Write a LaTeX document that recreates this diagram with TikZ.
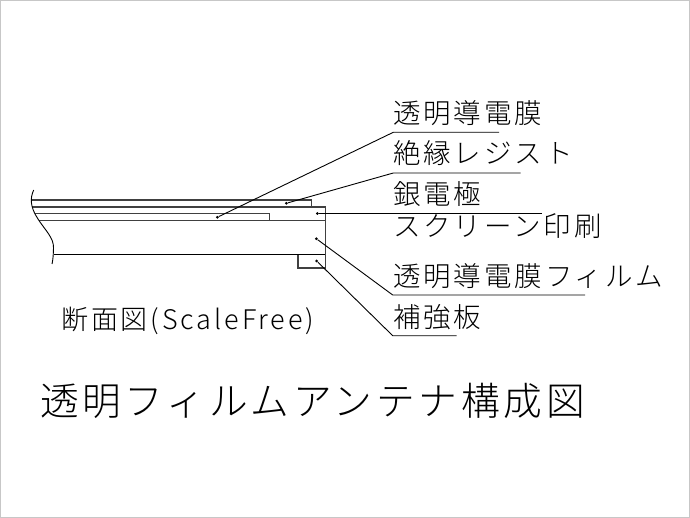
\documentclass[tikz,border=0pt]{standalone}
\usepackage{fontspec}
\usetikzlibrary{positioning}
\newfontfamily\cjklabel[LetterSpace=10.5]{Noto Sans CJK JP Light}
\newfontfamily\cjktitle[LetterSpace=9.6]{Noto Sans CJK JP Light}
\newfontfamily\cjkcap[LetterSpace=10.7]{Noto Sans CJK JP Light}
\tikzstyle{lbl} = [%
  anchor=base west,
  inner sep=0pt,
  font=\cjklabel\fontsize{27.5}{27.5}\selectfont
]
\tikzstyle{dotnode} = [%
  circle,
  fill=black,
  minimum size=3pt,
  inner sep=0pt
]
\tikzstyle{lead} = [%
  draw=black,
  line width=0.9pt
]
\tikzstyle{layer} = [%
  draw=black!75,
  line width=1.1pt
]

\begin{document}
\begin{tikzpicture}[x=1pt,y=-1pt]
  \useasboundingbox (0,0) rectangle (690,518);
  \draw[black!22,line width=1pt] (0.5,0.5) rectangle (689.5,517.5);

  % Layers
  \draw[layer] (31,200) -- (311.7,200) -- (311.7,207);
  \draw[layer] (32,207) -- (325.3,207) -- (325.3,268) -- (298,268) -- (298,254.7);
  \draw[layer] (35,213.7) -- (269.7,213.7) -- (269.7,220.7);
  \draw[layer] (39,220.7) -- (325.3,220.7);
  \draw[layer,black] (53.5,254.7) -- (325.3,254.7);
  \draw[lead] (33.7,190) .. controls (30,198) and (30,207) .. (38,219)
    .. controls (45,230) and (54,238) .. (53.5,248) .. controls (53.3,255) and (53,260) .. (52,264);

  % Dots
  \node[dotnode] (D1) at (217.3,217.3) {};
  \node[dotnode] (D2) at (286.3,203.3) {};
  \node[dotnode] (D3) at (317.3,213.5) {};
  \node[dotnode] (D4) at (316.3,238.7) {};
  \node[dotnode] (D5) at (316.7,261) {};

  % Knees and ends
  \coordinate (K1) at (393.3,132.3);
  \coordinate (E1) at (499,132.3);
  \coordinate (K2) at (393.3,173);
  \coordinate (E2) at (520.7,173);
  \coordinate (E3) at (541.7,213.5);
  \coordinate (K4) at (392.7,295);
  \coordinate (E4) at (585,295);
  \coordinate (K5) at (392.7,335.7);
  \coordinate (E5) at (456.7,335.7);

  % Leaders
  \draw[lead] (D1) -- (K1) -- (E1);
  \draw[lead] (D2) -- (K2) -- (E2);
  \draw[lead] (D3) -- (E3);
  \draw[lead] (D4) -- (K4) -- (E4);
  \draw[lead] (D5) -- (K5) -- (E5);

  % Labels
  \node[lbl] (L1) at (393,124) {透明導電膜};
  \node[lbl] (L2) at (393,164) {絶縁レジスト};
  \node[lbl] (L3) at (393,205) {銀電極};
  \node[lbl] (L4) at (393,237) {スクリーン印刷};
  \node[lbl] (L5) at (393,287) {透明導電膜フィルム};
  \node[lbl] (L6) at (393,327) {補強板};
  \node[lbl,font=\cjkcap\fontsize{27}{27}\selectfont] (C1) at (61,330) {断面図(ScaleFree)};
  \node[lbl,font=\cjktitle\fontsize{38.7}{38.7}\selectfont] (T1) at (40,415) {透明フィルムアンテナ構成図};
\end{tikzpicture}
\end{document}
